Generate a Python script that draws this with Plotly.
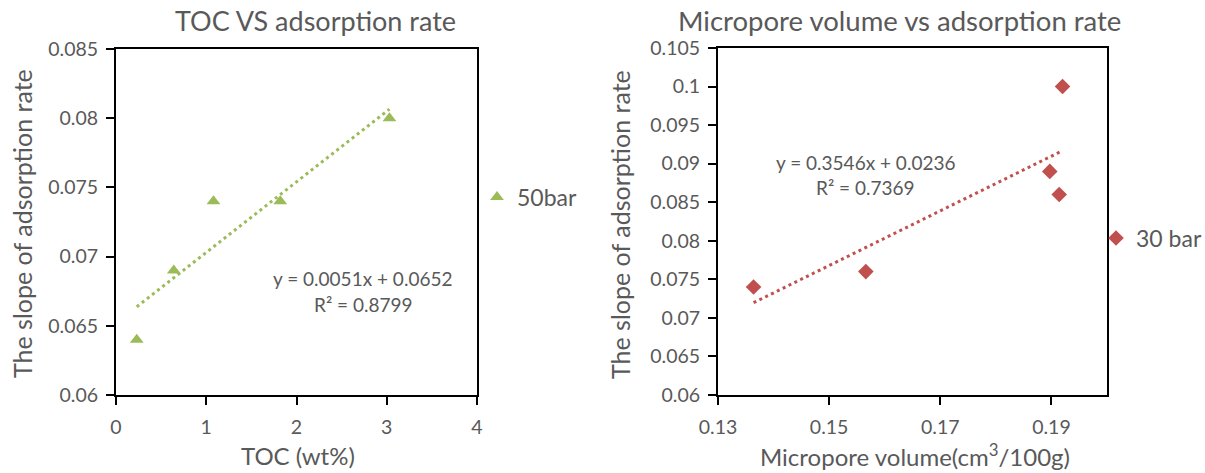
import plotly.graph_objects as go

# ---- data ----
toc = [0.23, 0.64, 1.08, 1.82, 3.03]
rate_50bar = [0.064, 0.069, 0.074, 0.074, 0.080]
toc_fit = (0.0051, 0.0652)          # slope, intercept from the chart
toc_eq = ["y = 0.0051x + 0.0652", "R² = 0.8799"]

micropore = [0.1364, 0.1566, 0.1897, 0.1914, 0.1920]
rate_30bar = [0.074, 0.076, 0.089, 0.086, 0.100]
mp_fit = (0.3546, 0.0236)
mp_eq = ["y = 0.3546x + 0.0236", "R² = 0.7369"]

x1_ticks = [0, 1, 2, 3, 4]
y1_ticks = [0.06, 0.065, 0.07, 0.075, 0.08, 0.085]
x2_ticks = [0.13, 0.15, 0.17, 0.19]
y2_ticks = [0.06, 0.065, 0.07, 0.075, 0.08, 0.085, 0.09, 0.095, 0.1, 0.105]

GREEN = "#9BBB59"
RED = "#C0504D"
TXT = "#595959"
FONT = "Lato"
W, H = 1205, 473
OFF = 0  # body margin removed via post_script

def px(x):
    return (x - OFF) / W

def py(y):
    return 1 - (y - OFF) / H

fig = go.Figure()

# left chart
fig.add_trace(go.Scatter(
    x=toc, y=rate_50bar, mode="markers", name="50bar",
    marker=dict(symbol="triangle-up", size=12, color=GREEN),
    xaxis="x", yaxis="y", legend="legend"))
tx = [min(toc), max(toc)]
fig.add_trace(go.Scatter(
    x=tx, y=[toc_fit[0] * v + toc_fit[1] for v in tx], mode="lines",
    line=dict(color=GREEN, width=3, dash="3px,3.5px"), showlegend=False,
    xaxis="x", yaxis="y", hoverinfo="skip"))

# right chart
fig.add_trace(go.Scatter(
    x=micropore, y=rate_30bar, mode="markers", name="30 bar",
    marker=dict(symbol="diamond", size=12, color=RED),
    xaxis="x2", yaxis="y2", legend="legend2"))
mx = [min(micropore), max(micropore)]
fig.add_trace(go.Scatter(
    x=mx, y=[mp_fit[0] * v + mp_fit[1] for v in mx], mode="lines",
    line=dict(color=RED, width=3, dash="3px,3.5px"), showlegend=False,
    xaxis="x2", yaxis="y2", hoverinfo="skip"))

axis_common = dict(
    showgrid=False, zeroline=False, showline=True, linecolor="black",
    linewidth=2, mirror=True, ticks="outside", ticklen=8, tickwidth=2,
    tickcolor="black", tickfont=dict(family=FONT, size=19.5, color=TXT),
    automargin=False,
)

fig.update_layout(
    width=W, height=H,
    margin=dict(l=0, r=0, t=0, b=0, autoexpand=False),
    paper_bgcolor="white", plot_bgcolor="white",
    font=dict(family=FONT, color=TXT),
    xaxis=dict(domain=[px(116), px(477)], range=[0, 4],
               tickvals=x1_ticks, ticktext=[str(v) for v in x1_ticks],
               anchor="y", ticklabelstandoff=6, **axis_common),
    yaxis=dict(domain=[py(395), py(49)], range=[0.06, 0.085],
               tickvals=y1_ticks, ticktext=[f"{v:g}" for v in y1_ticks],
               anchor="x", ticklabelstandoff=4, **axis_common),
    xaxis2=dict(domain=[px(718), px(1107)], range=[0.13, 0.2],
                tickvals=x2_ticks, ticktext=[f"{v:g}" for v in x2_ticks],
                anchor="y2", ticklabelstandoff=6, **axis_common),
    yaxis2=dict(domain=[py(395), py(48)], range=[0.06, 0.105],
                tickvals=y2_ticks, ticktext=[f"{v:g}" for v in y2_ticks],
                anchor="x2", ticklabelstandoff=4, **axis_common),
    legend=dict(x=px(477), y=py(197), xanchor="left", yanchor="middle",
                font=dict(family=FONT, size=23, color=TXT),
                bgcolor="rgba(0,0,0,0)", itemwidth=30),
    legend2=dict(x=px(1096), y=py(238), xanchor="left", yanchor="middle",
                 font=dict(family=FONT, size=23, color=TXT),
                 bgcolor="rgba(0,0,0,0)", itemwidth=30),
    showlegend=True,
)

ann = []
def add_text(text, x, y, size, angle=0):
    ann.append(dict(text=text, x=px(x), y=py(y), xref="paper", yref="paper",
                    xanchor="center", yanchor="middle", showarrow=False,
                    textangle=angle,
                    font=dict(family=FONT, size=size, color=TXT)))

add_text("TOC VS adsorption rate", 315, 20, 27)
add_text("Micropore volume vs adsorption rate", 899, 20, 27.5)
add_text("TOC (wt%)", 298, 455, 24)
add_text("Micropore volume(cm<sup>3</sup>/100g)", 915, 455, 24)
add_text("The slope of adsorption rate", 22, 224, 25, -90)
add_text("The slope of adsorption rate", 620, 224, 25, -90)
add_text(toc_eq[0], 362, 278, 19)
add_text(toc_eq[1], 363, 304, 19)
add_text(mp_eq[0], 865, 162, 19)
add_text(mp_eq[1], 865, 187, 19)
fig.update_layout(annotations=ann)

fig.write_html("out.html",
               config={"displayModeBar": False},
               post_script="document.body.style.margin='0';"
                           "document.body.style.overflow='hidden';")
